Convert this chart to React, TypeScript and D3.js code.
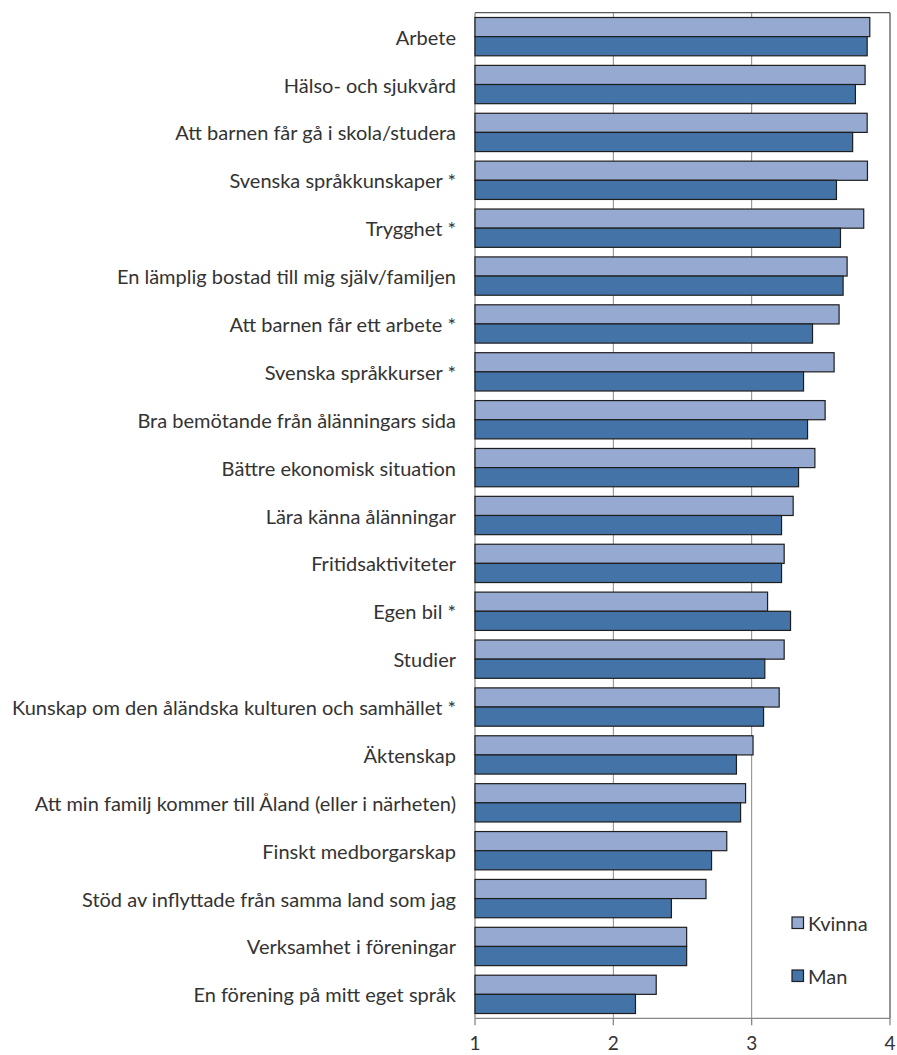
import React from "react";
import * as d3 from "d3";

const categories = [
  "Arbete",
  "Hälso- och sjukvård",
  "Att barnen får gå i skola/studera",
  "Svenska språkkunskaper *",
  "Trygghet *",
  "En lämplig bostad till mig själv/familjen",
  "Att barnen får ett arbete *",
  "Svenska språkkurser *",
  "Bra bemötande från ålänningars sida",
  "Bättre ekonomisk situation",
  "Lära känna ålänningar",
  "Fritidsaktiviteter",
  "Egen bil *",
  "Studier",
  "Kunskap om den åländska kulturen och samhället *",
  "Äktenskap",
  "Att min familj kommer till Åland (eller i närheten)",
  "Finskt medborgarskap",
  "Stöd av inflyttade från samma land som jag",
  "Verksamhet i föreningar",
  "En förening på mitt eget språk",
];

const kvinna = [3.854, 3.82, 3.835, 3.837, 3.81, 3.69, 3.632, 3.596, 3.531, 3.457, 3.3, 3.235, 3.115, 3.235, 3.199, 3.01, 2.956, 2.82, 2.67, 2.53, 2.31];
const man = [3.835, 3.75, 3.73, 3.613, 3.642, 3.661, 3.44, 3.375, 3.404, 3.339, 3.216, 3.216, 3.281, 3.095, 3.086, 2.89, 2.92, 2.71, 2.42, 2.53, 2.16];

const seriesNames = ["Kvinna", "Man"];
const seriesColors = ["#95A9D1", "#4473A7"];
const xTicks = [1, 2, 3, 4];

const W = 897;
const H = 1055;
const FONT = "Lato, 'Open Sans', sans-serif";

export default function App() {
  const left = 475;
  const right = 890;
  const top = 12.7;
  const bottom = 1018.3;

  const x = d3.scaleLinear().domain([1, 4]).range([left, right]);
  const y = d3
    .scaleBand<string>()
    .domain(categories)
    .range([top, bottom])
    .paddingInner(0.2)
    .paddingOuter(0.1);
  const sub = d3.scaleBand<string>().domain(seriesNames).range([0, y.bandwidth()]);

  const series = [kvinna, man];

  return (
    <svg
      width={W}
      height={H}
      style={{ position: "absolute", left: 0, top: 0, background: "#fff" }}
      fontFamily={FONT}
    >
      {[2, 3].map((t) => (
        <line key={t} x1={x(t)} x2={x(t)} y1={top} y2={bottom} stroke="#888" strokeWidth={1} />
      ))}
      <line x1={left} x2={right} y1={top} y2={top} stroke="#595959" strokeWidth={1.3} />
      <line x1={right} x2={right} y1={top} y2={bottom} stroke="#595959" strokeWidth={1.3} />
      <line x1={left} x2={left} y1={top} y2={bottom} stroke="#888" strokeWidth={1.3} />
      {categories.map((c, i) => (
        <g key={c}>
          {series.map((vals, s) => (
            <rect
              key={s}
              x={x(1)}
              y={(y(c) as number) + (sub(seriesNames[s]) as number)}
              width={x(vals[i]) - x(1)}
              height={sub.bandwidth()}
              fill={seriesColors[s]}
              stroke="#1e1e1e"
              strokeWidth={1.2}
            />
          ))}
          <text
            x={left - 19}
            y={(y(c) as number) + y.bandwidth() / 2}
            textAnchor="end"
            dominantBaseline="central"
            fontSize={20}
            fill="#333"
          >
            {c}
          </text>
        </g>
      ))}
      <line x1={left} x2={right} y1={bottom} y2={bottom} stroke="#888" strokeWidth={1.3} />
      {xTicks.map((t) => (
        <g key={t}>
          <line x1={x(t)} x2={x(t)} y1={bottom} y2={bottom + 7} stroke="#888" strokeWidth={1.3} />
          <text x={x(t)} y={bottom + 32} textAnchor="middle" fontSize={19} fill="#333">
            {t}
          </text>
        </g>
      ))}
      {seriesNames.map((n, s) => (
        <g key={n} transform={`translate(792, ${917 + s * 53})`}>
          <rect width={11.5} height={11.5} fill={seriesColors[s]} stroke="#1e1e1e" strokeWidth={1.2} />
          <text x={16} y={6} dominantBaseline="central" fontSize={20} fill="#333">
            {n}
          </text>
        </g>
      ))}
    </svg>
  );
}
